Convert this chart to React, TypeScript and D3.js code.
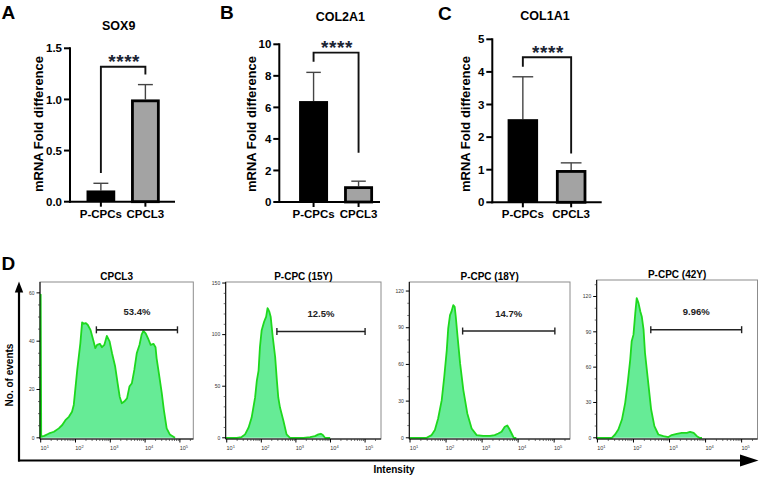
import React from 'react';
import * as d3 from 'd3';

// ---------- bar chart data ----------
const groups = ['P-CPCs', 'CPCL3'];
const sox9Mean = [0.11, 1.0];
const sox9ErrTop = [0.18, 1.145];
const sox9Ticks = [0, 0.5, 1.0, 1.5];
const sox9Bracket = [1.32, 0.28, 1.245]; // [bar y, left leg end, right leg end]

const col2a1Mean = [6.4, 1.0];
const col2a1ErrTop = [8.22, 1.32];
const col2a1Ticks = [0, 2, 4, 6, 8, 10];
const col2a1Bracket = [9.47, 8.9, 3.12];

const col1a1Mean = [2.55, 0.99];
const col1a1ErrTop = [3.85, 1.21];
const col1a1Ticks = [0, 1, 2, 3, 4, 5];
const col1a1Bracket = [4.45, 4.16, 1.5];

const significance = '****';

// ---------- flow histogram data: [log10 intensity, events] ----------
const cpcl3Hist: [number, number][] = [
  [0.99, 0], [1.0, 59.3], [1.015, 0.5], [1.1, 0.8], [1.24, 1.8], [1.38, 2.5], [1.52, 3.9], [1.62, 5.3],
  [1.71, 7.3], [1.81, 8.7], [1.9, 10.8], [1.95, 13.6], [2.05, 28.1], [2.14, 39.2], [2.19, 47.8],
  [2.24, 47.2], [2.29, 47.5], [2.35, 46.8], [2.43, 44.7], [2.48, 42.0], [2.52, 39.9], [2.57, 37.1],
  [2.62, 38.5], [2.7, 38.9], [2.76, 37.5], [2.83, 38.5], [2.9, 42.2], [2.98, 39.9], [3.05, 35.0],
  [3.14, 29.5], [3.21, 22.6], [3.27, 17.0], [3.33, 14.3], [3.4, 15.0], [3.48, 16.3], [3.55, 21.2],
  [3.62, 22.6], [3.69, 28.1], [3.76, 35.0], [3.84, 38.5], [3.9, 42.7], [3.95, 44.3], [4.02, 43.1],
  [4.1, 40.6], [4.16, 38.5], [4.24, 38.9], [4.3, 37.5], [4.33, 33.0], [4.41, 25.3], [4.48, 18.4],
  [4.54, 11.5], [4.62, 3.9], [4.71, 1.4], [4.86, 0],
];
const pcpc15Hist: [number, number][] = [
  [0.97, 0], [1.1, 0], [1.29, 0], [1.43, 0.7], [1.53, 3.3], [1.63, 9.8], [1.72, 19.6], [1.82, 39.1],
  [1.87, 55.4], [1.92, 65.2], [1.96, 88.0], [2.01, 104.3], [2.08, 112.5], [2.14, 117.4], [2.18, 125.6],
  [2.2, 124.6], [2.23, 122.3], [2.27, 117.4], [2.33, 97.8], [2.4, 78.3], [2.45, 55.4], [2.49, 39.1],
  [2.54, 29.3], [2.64, 16.3], [2.73, 3.3], [2.83, 0], [3.02, 0], [3.22, 0], [3.41, 0.7], [3.55, 1.6],
  [3.65, 3.3], [3.72, 3.9], [3.78, 2.6], [3.84, 0], [3.99, 0],
];
const pcpc18Hist: [number, number][] = [
  [0.98, 0], [1.09, 0], [1.28, 0], [1.46, 0], [1.6, 2.2], [1.69, 6.3], [1.78, 15.8], [1.88, 30.8],
  [1.95, 49.9], [2.02, 71.7], [2.06, 89.5], [2.11, 100.4], [2.15, 103.1], [2.2, 108.5], [2.24, 107.1],
  [2.27, 99.0], [2.32, 82.6], [2.39, 60.8], [2.48, 39.0], [2.59, 19.9], [2.71, 7.6], [2.85, 2.2],
  [3.03, 1.6], [3.22, 1.6], [3.35, 2.2], [3.45, 3.5], [3.54, 4.9], [3.63, 9.0], [3.7, 10.1],
  [3.75, 7.6], [3.82, 3.5], [3.88, 0], [3.95, 0],
];
const pcpc42Hist: [number, number][] = [
  [0.98, 0], [1.12, 0], [1.31, 0], [1.4, 0], [1.49, 2.8], [1.58, 7.1], [1.68, 15.5], [1.77, 29.7],
  [1.84, 46.6], [1.91, 66.4], [1.95, 81.9], [2.0, 87.6], [2.05, 105.9], [2.09, 118.6], [2.14, 114.4],
  [2.19, 107.3], [2.23, 103.1], [2.28, 91.8], [2.32, 72.0], [2.4, 49.4], [2.49, 24.0], [2.58, 9.9],
  [2.69, 2.8], [2.83, 1.4], [2.97, 0.6], [3.06, 2.3], [3.2, 3.4], [3.34, 4.2], [3.48, 4.2],
  [3.57, 5.1], [3.67, 4.2], [3.76, 1.4], [3.83, 0], [3.9, 0],
];
const flowTitles = ['CPCL3', 'P-CPC (15Y)', 'P-CPC (18Y)', 'P-CPC (42Y)'];
const flowPercents = ['53.4%', '12.5%', '14.7%', '9.96%'];
const flowGates: [number, number][] = [[2.6, 4.93], [2.45, 5.0], [2.46, 5.02], [2.48, 5.0]];
const flowGateEvents = [44.7, 103, 87.3, 91.8];
const flowYMax = [64.5, 151, 127.4, 134];
const flowYTicks = [[0, 20, 40, 60], [0, 50, 100, 150], [0, 30, 60, 90, 120], [0, 30, 60, 90, 120]];
const flowYMinorStep = [5, 10, 10, 10];
const flowDecades = [1, 2, 3, 4, 5];

const FONT = "'Liberation Sans', Arial, Helvetica, sans-serif";

type BarPanelProps = {
  letter: string; letterX: number; letterY: number;
  title: string; titleX: number; titleY: number;
  means: number[]; errTop: number[]; ticks: number[]; bracket: number[];
  domainMax: number; fmt: string;
  x0: number; x1: number; yTop: number; yBottom: number;
  pi: number; po: number; align: number; labelX: number; capRatio: number;
};

function BarPanel(p: BarPanelProps) {
  const x = d3.scaleBand<string>().domain(groups).range([p.x0, p.x1])
    .paddingInner(p.pi).paddingOuter(p.po).align(p.align);
  const y = d3.scaleLinear().domain([0, p.domainMax]).range([p.yBottom, p.yTop]);
  const bw = x.bandwidth();
  const fmt = d3.format(p.fmt);
  const cx = (g: string) => (x(g) as number) + bw / 2;
  const [bY, lEnd, rEnd] = p.bracket;
  const xl = cx(groups[0]);
  const xr = cx(groups[1]);
  const labelCenterY = 124;
  return (
    <g fontFamily={FONT}>
      <text x={p.letterX} y={p.letterY} fontSize={19} fontWeight="bold">{p.letter}</text>
      <text x={p.titleX} y={p.titleY} fontSize={12.5} fontWeight="bold" textAnchor="middle">{p.title}</text>
      <text transform={`translate(${p.labelX},${labelCenterY}) rotate(-90)`} fontSize={13} fontWeight="bold" textAnchor="middle">mRNA Fold difference</text>
      {/* bars */}
      {groups.map((g, i) => (
        <g key={g}>
          <line x1={cx(g)} x2={cx(g)} y1={y(p.means[i])} y2={y(p.errTop[i])} stroke="#444" strokeWidth={1.4} />
          <line x1={cx(g) - bw * p.capRatio / 2} x2={cx(g) + bw * p.capRatio / 2} y1={y(p.errTop[i])} y2={y(p.errTop[i])} stroke="#444" strokeWidth={1.4} />
          {i === 0 ? (
            <rect x={x(g)} y={y(p.means[i])} width={bw} height={y(0) - y(p.means[i])} fill="#000" />
          ) : (
            <rect x={(x(g) as number) + 1.4} y={y(p.means[i]) + 1.4} width={bw - 2.8} height={y(0) - y(p.means[i]) - 1.4} fill="#a3a3a3" stroke="#000" strokeWidth={2.8} />
          )}
        </g>
      ))}
      {/* axes */}
      <line x1={p.x0} x2={p.x0} y1={p.yTop - 1} y2={p.yBottom + 1} stroke="#000" strokeWidth={2} />
      <line x1={p.x0 - 1} x2={p.x1} y1={p.yBottom} y2={p.yBottom} stroke="#000" strokeWidth={2} />
      {p.ticks.map((t) => (
        <g key={t}>
          <line x1={p.x0 - 6} x2={p.x0} y1={y(t)} y2={y(t)} stroke="#000" strokeWidth={2} />
          <text x={p.x0 - 8} y={y(t)} dy="0.36em" fontSize={11.5} fontWeight="bold" textAnchor="end">{fmt(t)}</text>
        </g>
      ))}
      {groups.map((g) => (
        <g key={g + 'lab'}>
          <line x1={cx(g)} x2={cx(g)} y1={p.yBottom} y2={p.yBottom + 5} stroke="#000" strokeWidth={2} />
          <text x={cx(g)} y={218} fontSize={11.5} fontWeight="bold" textAnchor="middle">{g}</text>
        </g>
      ))}
      {/* significance bracket */}
      <path d={`M${xl},${y(lEnd)}V${y(bY)}H${xr}V${y(rEnd)}`} fill="none" stroke="#111" strokeWidth={1.9} />
      <text x={(xl + xr) / 2 + 1} y={y(bY) + 1.5} fontSize={19} fontWeight="bold" textAnchor="middle" letterSpacing={0.6} fill="#1b2433">{significance}</text>
    </g>
  );
}

type FlowProps = {
  idx: number; data: [number, number][];
  left: number; right: number; top: number; bottom: number;
  minExp: number; maxExp: number;
};

function FlowPanel(p: FlowProps) {
  const i = p.idx;
  const x = d3.scaleLog().domain([Math.pow(10, p.minExp), Math.pow(10, p.maxExp)]).range([p.left, p.right]);
  const y = d3.scaleLinear().domain([0, flowYMax[i]]).range([p.bottom - 1.2, p.top]);
  const xe = (e: number) => x(Math.pow(10, e));
  const area = d3.area<[number, number]>().x((d) => xe(d[0])).y0(y(0)).y1((d) => y(d[1])).curve(d3.curveLinear);
  const line = d3.line<[number, number]>().x((d) => xe(d[0])).y((d) => y(d[1])).curve(d3.curveLinear);
  const minors: number[] = [];
  flowDecades.forEach((k) => {
    for (let m = 2; m <= 9; m++) {
      const e = k + Math.log10(m);
      if (e < p.maxExp) minors.push(e);
    }
  });
  const yMinor = d3.range(0, flowYMax[i], flowYMinorStep[i]).filter((v) => !flowYTicks[i].includes(v));
  const [g0, g1] = flowGates[i];
  const gy = y(flowGateEvents[i]);
  const gx0 = xe(g0);
  const gx1 = xe(g1);
  return (
    <g fontFamily={FONT}>
      <rect x={p.left} y={p.top} width={p.right - p.left} height={p.bottom - p.top} fill="#fff" stroke="#8c8c8c" strokeWidth={1} />
      <text x={(p.left + p.right) / 2} y={p.top - 2} fontSize={10} fontWeight="bold" textAnchor="middle">{flowTitles[i]}</text>
      <path d={area(p.data) || ''} fill="#66eb96" />
      <path d={line(p.data) || ''} fill="none" stroke="#1ed81e" strokeWidth={1.8} strokeLinejoin="round" />
      {/* axes */}
      <line x1={p.left} x2={p.left} y1={p.top} y2={p.bottom} stroke="#000" strokeWidth={1} />
      <line x1={p.left} x2={p.right} y1={p.bottom} y2={p.bottom} stroke="#000" strokeWidth={1} />
      {flowDecades.map((k) => (
        <g key={k}>
          <line x1={xe(k)} x2={xe(k)} y1={p.bottom} y2={p.bottom + 3.5} stroke="#000" strokeWidth={1} />
          <text x={xe(k) + 4} y={p.bottom + 11} fontSize={5.5} fill="#333" textAnchor="middle">
            10<tspan dy={-2.2} fontSize={4}>{k}</tspan>
          </text>
        </g>
      ))}
      {minors.map((e) => (
        <line key={e} x1={xe(e)} x2={xe(e)} y1={p.bottom} y2={p.bottom + 2} stroke="#333" strokeWidth={0.7} />
      ))}
      {flowYTicks[i].map((t) => (
        <g key={t}>
          <line x1={p.left - 3.5} x2={p.left} y1={y(t)} y2={y(t)} stroke="#000" strokeWidth={1} />
          <text x={p.left - 5.5} y={y(t)} dy="0.35em" fontSize={5} fill="#333" textAnchor="end">{t}</text>
        </g>
      ))}
      {yMinor.map((t) => (
        <line key={t} x1={p.left - 2} x2={p.left} y1={y(t)} y2={y(t)} stroke="#333" strokeWidth={0.7} />
      ))}
      {/* gate */}
      <line x1={gx0} x2={gx1} y1={gy} y2={gy} stroke="#222" strokeWidth={1.6} />
      <line x1={gx0} x2={gx0} y1={gy - 3.5} y2={gy + 3.5} stroke="#222" strokeWidth={1.4} />
      <line x1={gx1} x2={gx1} y1={gy - 3.5} y2={gy + 3.5} stroke="#222" strokeWidth={1.4} />
      <text x={(gx0 + gx1) / 2} y={gy - 14.5} fontSize={9.5} fontWeight="bold" fill="#222" textAnchor="middle">{flowPercents[i]}</text>
    </g>
  );
}

export default function App() {
  const flowLayouts = [
    { data: cpcl3Hist, left: 40, right: 193.3, top: 282, bottom: 439, minExp: 0.98, maxExp: 5.385 },
    { data: pcpc15Hist, left: 225.7, right: 381, top: 282, bottom: 439, minExp: 0.97, maxExp: 5.46 },
    { data: pcpc18Hist, left: 409.3, right: 570, top: 282, bottom: 439, minExp: 0.98, maxExp: 5.44 },
    { data: pcpc42Hist, left: 596.7, right: 757.5, top: 280, bottom: 439, minExp: 0.98, maxExp: 5.44 },
  ];
  return (
    <svg width={761} height={478} viewBox="0 0 761 478" style={{ position: 'absolute', left: 0, top: 0, background: '#fff' }}>
      <rect x={0} y={0} width={761} height={478} fill="#fff" />
      <BarPanel letter="A" letterX={1.5} letterY={18.5} title="SOX9" titleX={118.7} titleY={29.5}
        means={sox9Mean} errTop={sox9ErrTop} ticks={sox9Ticks} bracket={sox9Bracket} domainMax={1.5} fmt=".1f"
        x0={70} x1={175} yTop={48.3} yBottom={201.7} pi={0.355} po={0.357} align={0.52} labelX={42.5} capRatio={0.52} />
      <BarPanel letter="B" letterX={220} letterY={18.5} title="COL2A1" titleX={340.3} titleY={21}
        means={col2a1Mean} errTop={col2a1ErrTop} ticks={col2a1Ticks} bracket={col2a1Bracket} domainMax={10} fmt="d"
        x0={279.3} x1={380} yTop={44.3} yBottom={202} pi={0.356} po={0.297} align={0.74} labelX={256} capRatio={0.5} />
      <BarPanel letter="C" letterX={438} letterY={19.5} title="COL1A1" titleX={545} titleY={19.5}
        means={col1a1Mean} errTop={col1a1ErrTop} ticks={col1a1Ticks} bracket={col1a1Bracket} domainMax={5} fmt="d"
        x0={492.3} x1={601.7} yTop={39.3} yBottom={202.3} pi={0.369} po={0.317} align={0.5} labelX={470} capRatio={0.68} />

      {/* panel D */}
      <text x={1.5} y={269.5} fontFamily={FONT} fontSize={19} fontWeight="bold">D</text>
      <line x1={19} x2={19} y1={290} y2={461.5} stroke="#000" strokeWidth={2.2} />
      <path d="M19,281.5L14.8,292.5L23.2,292.5Z" fill="#000" />
      <line x1={18} x2={742} y1={460.5} y2={460.5} stroke="#000" strokeWidth={2.2} />
      <path d="M758.5,460.5L740,454.5L740,466.5Z" fill="#000" />
      <text transform="translate(13,375) rotate(-90)" fontFamily={FONT} fontSize={10} fontWeight="bold" textAnchor="middle">No. of events</text>
      <text x={394} y={472.5} fontFamily={FONT} fontSize={10} fontWeight="bold" textAnchor="middle">Intensity</text>
      {flowLayouts.map((l, i) => (
        <FlowPanel key={i} idx={i} {...l} />
      ))}
    </svg>
  );
}
